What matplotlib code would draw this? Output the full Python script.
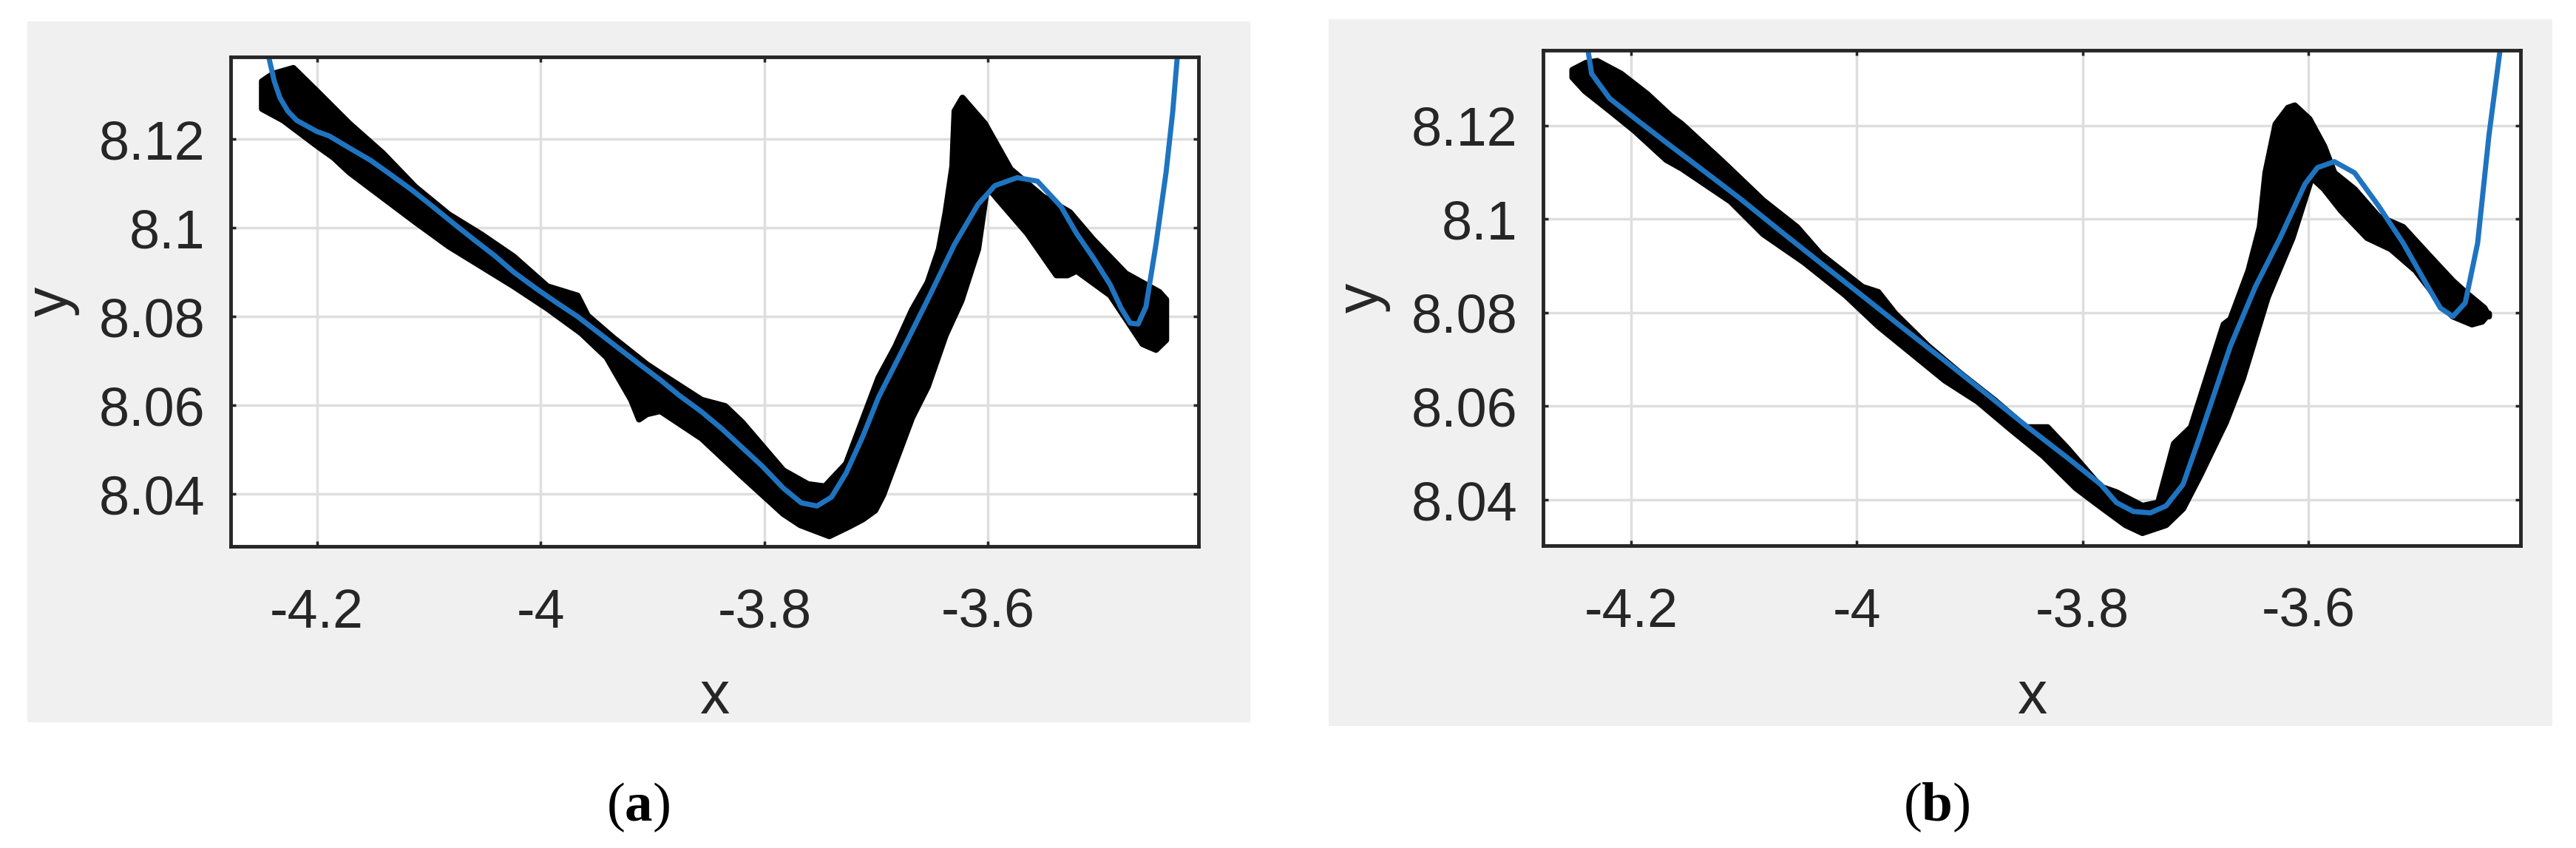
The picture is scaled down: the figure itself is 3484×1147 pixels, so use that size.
"""
Two-panel fit comparison: measured band (black) with polynomial fit (blue)
"""
import numpy as np
import matplotlib
matplotlib.use('Agg')
import matplotlib.pyplot as plt
from matplotlib.patches import Rectangle

plt.rcParams['font.family'] = ['Liberation Sans', 'DejaVu Sans']
plt.rcParams['axes.unicode_minus'] = False
plt.rcParams['mathtext.fontset'] = 'custom'
plt.rcParams['mathtext.rm'] = 'Liberation Serif'
plt.rcParams['mathtext.bf'] = 'Liberation Serif:bold'

# ticks
x_ticks = [-4.2, -4.0, -3.8, -3.6]
x_tick_labels = ['-4.2', '-4', '-3.8', '-3.6']
y_ticks = [8.04, 8.06, 8.08, 8.10, 8.12]
y_tick_labels = ['8.04', '8.06', '8.08', '8.1', '8.12']
panel_labels = ['($\\mathbf{a}$)', '($\\mathbf{b}$)']

# panel (a): measured band, upper and lower envelope
a_upper_x = [-4.249, -4.239, -4.221, -4.200, -4.171, -4.141, -4.112, -4.082, -4.053, -4.024,
             -3.994, -3.967, -3.958, -3.935, -3.905, -3.893, -3.856, -3.835, -3.820, -3.783,
             -3.761, -3.746, -3.727, -3.698, -3.683, -3.668, -3.654, -3.644, -3.638, -3.632,
             -3.630, -3.623, -3.603, -3.580, -3.551, -3.527, -3.506, -3.477, -3.447, -3.441]
a_upper_y = [8.1330, 8.1347, 8.1360, 8.1308, 8.1235, 8.1168, 8.1092, 8.1030, 8.0985, 8.0935,
             8.0868, 8.0847, 8.0802, 8.0752, 8.0692, 8.0672, 8.0612, 8.0598, 8.0562, 8.0453,
             8.0422, 8.0417, 8.0468, 8.0662, 8.0732, 8.0815, 8.0877, 8.0952, 8.1035, 8.1138,
             8.1263, 8.1293, 8.1235, 8.1132, 8.1070, 8.1035, 8.0973, 8.0897, 8.0855, 8.0838]
a_lower_x = [-4.249, -4.230, -4.200, -4.185, -4.171, -4.141, -4.112, -4.082, -4.053, -4.024,
             -3.994, -3.964, -3.941, -3.919, -3.912, -3.905, -3.893, -3.856, -3.820, -3.783,
             -3.768, -3.742, -3.724, -3.712, -3.701, -3.694, -3.668, -3.654, -3.638, -3.624,
             -3.609, -3.601, -3.591, -3.565, -3.539, -3.529, -3.521, -3.491, -3.473, -3.462,
             -3.450, -3.441]
a_lower_y = [8.1268, 8.1242, 8.1185, 8.1158, 8.1125, 8.1068, 8.1013, 8.0958, 8.0913, 8.0868,
             8.0818, 8.0763, 8.0708, 8.0612, 8.0568, 8.0580, 8.0587, 8.0525, 8.0440, 8.0355,
             8.0330, 8.0305, 8.0327, 8.0343, 8.0363, 8.0397, 8.0572, 8.0642, 8.0758, 8.0835,
             8.0952, 8.1093, 8.1063, 8.0987, 8.0893, 8.0893, 8.0903, 8.0848, 8.0780, 8.0738,
             8.0725, 8.0747]
# panel (a): fitted curve
a_fit_x = [-4.245, -4.243, -4.238, -4.233, -4.226, -4.218, -4.200, -4.189, -4.171, -4.152,
           -4.133, -4.115, -4.096, -4.078, -4.059, -4.041, -4.024, -4.004, -3.985, -3.967,
           -3.948, -3.930, -3.912, -3.893, -3.876, -3.856, -3.838, -3.820, -3.802, -3.783,
           -3.767, -3.753, -3.740, -3.727, -3.712, -3.698, -3.674, -3.654, -3.630, -3.609,
           -3.594, -3.574, -3.556, -3.535, -3.521, -3.506, -3.491, -3.481, -3.473, -3.466,
           -3.459, -3.450, -3.441, -3.435, -3.431, -3.429]
a_fit_y = [8.1420, 8.1385, 8.1330, 8.1293, 8.1263, 8.1242, 8.1217, 8.1207, 8.1180, 8.1152,
           8.1118, 8.1085, 8.1047, 8.1010, 8.0972, 8.0937, 8.0900, 8.0863, 8.0830, 8.0800,
           8.0763, 8.0728, 8.0693, 8.0657, 8.0622, 8.0585, 8.0547, 8.0505, 8.0463, 8.0413,
           8.0380, 8.0373, 8.0393, 8.0447, 8.0530, 8.0618, 8.0737, 8.0838, 8.0963, 8.1053,
           8.1095, 8.1113, 8.1105, 8.1048, 8.0987, 8.0932, 8.0872, 8.0818, 8.0785, 8.0783,
           8.0822, 8.0963, 8.1125, 8.1263, 8.1385, 8.1420]

# panel (b): measured band, upper and lower envelope
b_upper_x = [-4.252, -4.240, -4.230, -4.209, -4.186, -4.165, -4.155, -4.119, -4.083, -4.053,
             -4.032, -3.995, -3.981, -3.966, -3.937, -3.908, -3.878, -3.850, -3.831, -3.813,
             -3.784, -3.770, -3.747, -3.733, -3.719, -3.704, -3.675, -3.669, -3.653, -3.643,
             -3.638, -3.629, -3.618, -3.612, -3.599, -3.586, -3.577, -3.559, -3.538, -3.516,
             -3.494, -3.472, -3.461, -3.444, -3.440]
b_upper_y = [8.1319, 8.1334, 8.1338, 8.1311, 8.1268, 8.1221, 8.1203, 8.1123, 8.1040, 8.0983,
             8.0925, 8.0855, 8.0844, 8.0798, 8.0729, 8.0670, 8.0613, 8.0555, 8.0555, 8.0509,
             8.0428, 8.0416, 8.0387, 8.0394, 8.0520, 8.0555, 8.0775, 8.0786, 8.0890, 8.0983,
             8.1099, 8.1203, 8.1238, 8.1243, 8.1214, 8.1156, 8.1099, 8.1064, 8.1006, 8.0983,
             8.0925, 8.0868, 8.0844, 8.0810, 8.0792]
b_lower_x = [-4.252, -4.241, -4.219, -4.197, -4.169, -4.155, -4.112, -4.083, -4.047, -4.010,
             -3.981, -3.952, -3.922, -3.893, -3.864, -3.835, -3.806, -3.784, -3.762, -3.747,
             -3.726, -3.711, -3.696, -3.673, -3.658, -3.636, -3.614, -3.597, -3.586, -3.571,
             -3.548, -3.527, -3.505, -3.483, -3.472, -3.455, -3.446, -3.440]
b_lower_y = [8.1303, 8.1274, 8.1232, 8.1189, 8.1127, 8.1108, 8.1038, 8.0968, 8.0908, 8.0837,
             8.0771, 8.0714, 8.0655, 8.0610, 8.0551, 8.0494, 8.0425, 8.0385, 8.0346, 8.0329,
             8.0346, 8.0381, 8.0451, 8.0566, 8.0659, 8.0833, 8.0960, 8.1089, 8.1064, 8.1018,
             8.0960, 8.0936, 8.0890, 8.0821, 8.0792, 8.0775, 8.0781, 8.0798]
# panel (b): fitted curve
b_fit_x = [-4.240, -4.238, -4.235, -4.219, -4.197, -4.169, -4.141, -4.104, -4.068, -4.032,
           -3.995, -3.959, -3.922, -3.886, -3.850, -3.813, -3.784, -3.770, -3.755, -3.740,
           -3.726, -3.711, -3.696, -3.690, -3.669, -3.647, -3.625, -3.603, -3.592, -3.577,
           -3.559, -3.538, -3.516, -3.494, -3.483, -3.472, -3.461, -3.450, -3.440, -3.430,
           -3.428]
b_fit_y = [8.1400, 8.1358, 8.1311, 8.1258, 8.1216, 8.1164, 8.1113, 8.1045, 8.0975, 8.0906,
           8.0836, 8.0767, 8.0697, 8.0628, 8.0558, 8.0489, 8.0433, 8.0394, 8.0375, 8.0372,
           8.0387, 8.0433, 8.0536, 8.0579, 8.0729, 8.0855, 8.0960, 8.1075, 8.1110, 8.1123,
           8.1099, 8.1029, 8.0949, 8.0855, 8.0810, 8.0792, 8.0821, 8.0949, 8.1179, 8.1364,
           8.1400]

TEXT = '#262626'
FIT_BLUE = '#1f74c0'


def draw_panel(ax, ux, uy, lx, ly, fx, fy, xlim, ylim, xlabel_y):
    band_x = np.r_[ux, lx[::-1]]
    band_y = np.r_[uy, ly[::-1]]
    # rounded edge smooths the outline like a cloud of big markers
    ax.fill(band_x, band_y, facecolor='black', edgecolor='black',
            linewidth=6, joinstyle='round', zorder=2)
    ax.plot(fx, fy, color=FIT_BLUE, linewidth=5, solid_joinstyle='round',
            solid_capstyle='round', zorder=3)

    ax.set_xlim(*xlim)
    ax.set_ylim(*ylim)
    ax.set_xticks(x_ticks)
    ax.set_xticklabels(x_tick_labels)
    ax.set_yticks(y_ticks)
    ax.set_yticklabels(y_tick_labels)

    ax.grid(True, color='#dedede', linewidth=2.5)
    ax.set_axisbelow(True)
    ax.set_facecolor('white')

    ax.tick_params(axis='both', direction='in', top=True, right=True,
                   length=5, width=2.5, color=TEXT, labelcolor=TEXT, labelsize=53)
    ax.tick_params(axis='y', pad=25)
    ax.tick_params(axis='x', pad=40)

    for spine in ax.spines.values():
        spine.set_linewidth(3.5)
        spine.set_color(TEXT)
        spine.set_zorder(5)

    ax.set_xlabel('x', fontsize=58, color=TEXT)
    ax.set_ylabel('y', fontsize=58, color=TEXT)
    ax.xaxis.set_label_coords(0.5, xlabel_y)
    ax.yaxis.set_label_coords(-0.156, 0.5)


fig = plt.figure(figsize=(34.84, 11.47), dpi=100, facecolor='white')

# grey figure backgrounds behind each panel
for x0, y0, w, h in [(0.0106, 0.1482, 0.4747, 0.8265), (0.5158, 0.1439, 0.4750, 0.8334)]:
    fig.patches.append(Rectangle((x0, y0), w, h, transform=fig.transFigure,
                                 facecolor='#f0f0f0', edgecolor='none', zorder=-10))

ax_a = fig.add_axes([0.08955, 0.35571, 0.37572, 0.57716])
ax_b = fig.add_axes([0.59902, 0.35658, 0.37945, 0.58413])

draw_panel(ax_a, a_upper_x, a_upper_y, a_lower_x, a_lower_y, a_fit_x, a_fit_y,
           (-4.277, -3.412), (8.0282, 8.1385), -0.252)
draw_panel(ax_b, b_upper_x, b_upper_y, b_lower_x, b_lower_y, b_fit_x, b_fit_y,
           (-4.278, -3.412), (8.0302, 8.1361), -0.251)

for xc, label in zip([0.2477, 0.7518], panel_labels):
    fig.text(xc, 0.0475, label, ha='center', va='center', fontsize=54,
             family='Liberation Serif', color='black')

plt.savefig('out.png', dpi=100, facecolor='white')
plt.close(fig)
